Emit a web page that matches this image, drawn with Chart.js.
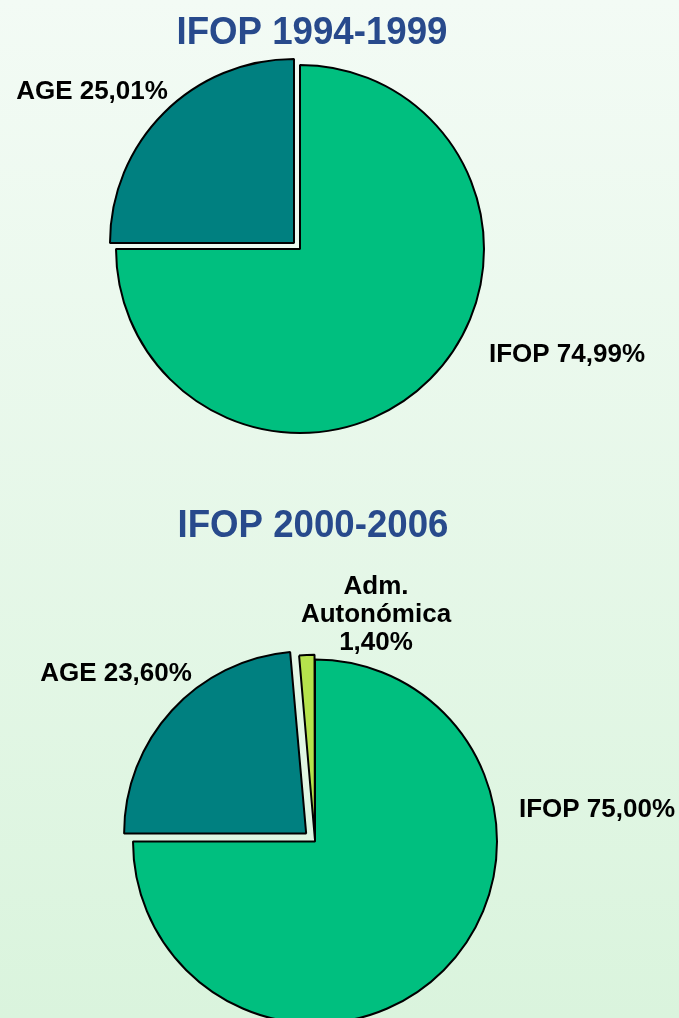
<!DOCTYPE html>
<html>
<head>
<meta charset="utf-8">
<script src="https://cdn.jsdelivr.net/npm/chart.js@4/dist/chart.umd.min.js"></script>
<style>
  body {
    margin: 0;
    width: 679px;
    height: 1018px;
    overflow: hidden;
    position: relative;
    background: linear-gradient(to bottom, #f3fbf5, #daf4dd);
  }
  canvas { position: absolute; left: 0; }
  #graph1 { top: 0; }
  #graph2 { top: 500px; }
</style>
</head>
<body>
<canvas id="graph1" width="679" height="498"></canvas>
<canvas id="graph2" width="679" height="683"></canvas>
<script>
// data
var titles = ['IFOP 1994-1999', 'IFOP 2000-2006'];
var categories1 = ['IFOP', 'AGE'];
var values1 = [74.99, 25.01];
var categories2 = ['IFOP', 'AGE', 'Adm. Autonómica'];
var values2 = [75.00, 23.60, 1.40];

var colors = ['#00bf7f', '#008080', '#b5e24c'];

function pct(v) {
    return v.toFixed(2).replace('.', ',') + '%';
}

// draws the title and the slice labels (positions are relative to the pie centre)
var sliceLabels = {
    id: 'sliceLabels',
    afterDraw: function(chart) {
        var o = chart.options.plugins.sliceLabels;
        var ctx = chart.ctx;
        var arc = chart.getDatasetMeta(0).data[0];
        var cx = arc.x, cy = arc.y;
        ctx.save();
        ctx.textAlign = 'center';
        ctx.textBaseline = 'alphabetic';

        ctx.fillStyle = '#284a8c';
        ctx.font = 'bold 38.5px "Liberation Sans", Arial, sans-serif';
        ctx.save();
        ctx.translate(o.titleX, o.titleY);
        ctx.scale(0.952, 1);
        ctx.fillText(o.title, 0, 0);
        ctx.restore();

        ctx.fillStyle = '#000';
        ctx.font = 'bold 26px "Liberation Sans", Arial, sans-serif';
        var labels = chart.data.labels;
        var data = chart.data.datasets[0].data;
        o.pos.forEach(function(p, i) {
            var lines;
            if (p.wrap) {
                lines = labels[i].split(' ').concat([pct(data[i])]);
            } else {
                lines = [labels[i] + ' ' + pct(data[i])];
            }
            lines.forEach(function(t, k) {
                ctx.fillText(t, cx + p.dx, cy + p.dy + k * 28.3);
            });
        });
        ctx.restore();
    }
};

var ctx1 = document.getElementById('graph1').getContext('2d');

var data1 = {
    labels: categories1,
    datasets: [
        {
            data: values1,
            backgroundColor: colors.slice(0, 2),
            borderColor: '#000',
            borderWidth: 2,
            offset: [0, 34]
        }
    ]
}
var options1 = {
    responsive: false,
    animation: false,
    events: [],
    radius: 184,
    layout: { padding: { right: 79 } },
    plugins: {
        legend: { display: false },
        tooltip: { enabled: false },
        sliceLabels: {
            title: titles[0], titleX: 312, titleY: 44,
            pos: [ { dx: 267, dy: 113 }, { dx: -208, dy: -150 } ]
        }
    }
}

var graph1 = new Chart(ctx1, { type: 'pie', data: data1, options: options1, plugins: [sliceLabels] })

// ================================================================

var ctx2 = document.getElementById('graph2').getContext('2d');

var data2 = {
    labels: categories2,
    datasets: [
        {
            data: values2,
            backgroundColor: colors,
            borderColor: '#000',
            borderWidth: 2,
            offset: [0, 48, 10]
        }
    ]
}
var options2 = {
    responsive: false,
    animation: false,
    events: [],
    radius: 182,
    layout: { padding: { right: 49 } },
    plugins: {
        legend: { display: false },
        tooltip: { enabled: false },
        sliceLabels: {
            title: titles[1], titleX: 313, titleY: 37,
            pos: [ { dx: 282, dy: -25 }, { dx: -199, dy: -161 }, { dx: 61, dy: -248, wrap: true } ]
        }
    }
}

var graph2 = new Chart(ctx2, { type: 'pie', data: data2, options: options2, plugins: [sliceLabels] })
</script>
</body>
</html>
